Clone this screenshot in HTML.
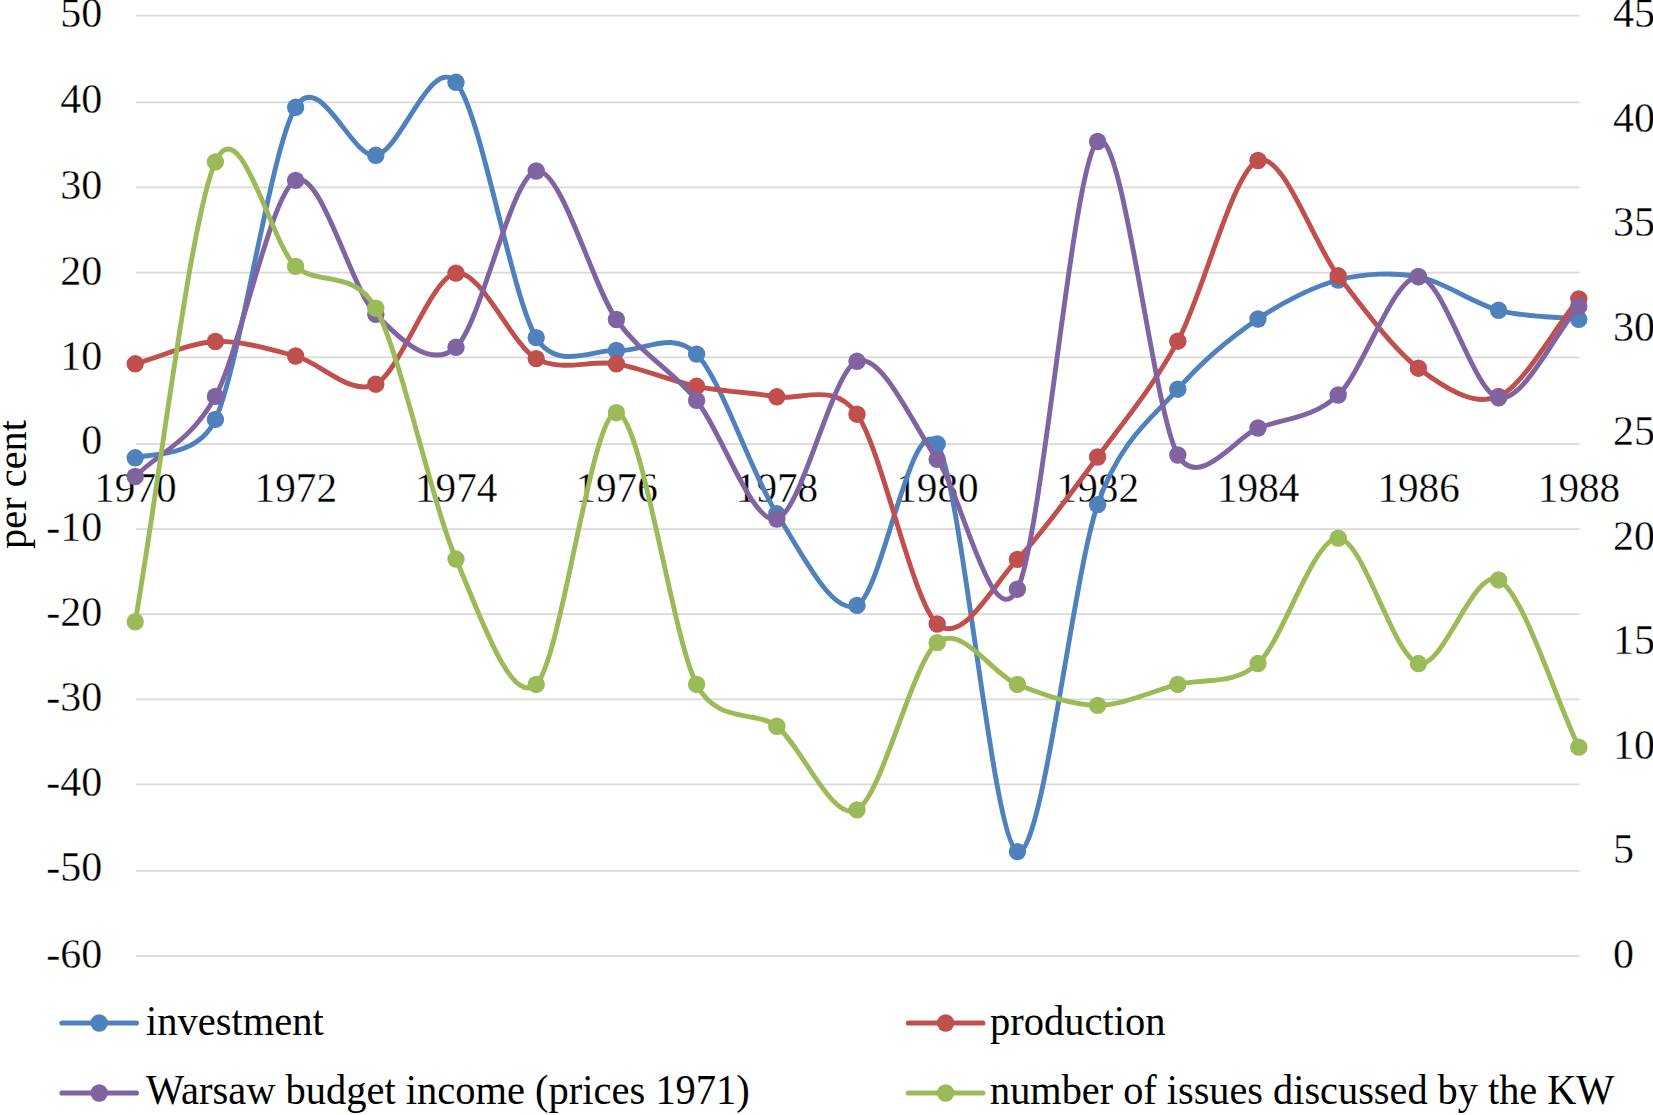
<!DOCTYPE html>
<html><head><meta charset="utf-8"><style>
html,body{margin:0;padding:0;background:#fff;width:1653px;height:1115px;overflow:hidden;font-family:"Liberation Serif",serif;}
svg{display:block}
</style></head><body>
<svg width="1653" height="1115" viewBox="0 0 1653 1115">
<g stroke="#D9D9D9" stroke-width="1.7"><line x1="136.0" x2="1579.6" y1="15.60" y2="15.60"/><line x1="136.0" x2="1579.6" y1="102.40" y2="102.40"/><line x1="136.0" x2="1579.6" y1="187.40" y2="187.40"/><line x1="136.0" x2="1579.6" y1="272.70" y2="272.70"/><line x1="136.0" x2="1579.6" y1="357.40" y2="357.40"/><line x1="136.0" x2="1579.6" y1="444.10" y2="444.10"/><line x1="136.0" x2="1579.6" y1="529.10" y2="529.10"/><line x1="136.0" x2="1579.6" y1="614.10" y2="614.10"/><line x1="136.0" x2="1579.6" y1="699.40" y2="699.40"/><line x1="136.0" x2="1579.6" y1="784.40" y2="784.40"/><line x1="136.0" x2="1579.6" y1="870.80" y2="870.80"/><line x1="136.0" x2="1579.6" y1="956.15" y2="956.15"/></g>
<g font-family="Liberation Serif" font-size="42" fill="#000" stroke="#fff" stroke-width="0.3" text-anchor="end">
<text x="102.3" y="27.45">50</text>
<text x="102.3" y="113.00">40</text>
<text x="102.3" y="199.35">30</text>
<text x="102.3" y="284.55">20</text>
<text x="102.3" y="369.65">10</text>
<text x="102.3" y="454.25">0</text>
<text x="102.3" y="541.25">-10</text>
<text x="102.3" y="626.25">-20</text>
<text x="102.3" y="711.35">-30</text>
<text x="102.3" y="796.05">-40</text>
<text x="102.3" y="880.85">-50</text>
<text x="102.3" y="968.15">-60</text>
</g>
<g font-family="Liberation Serif" font-size="42" fill="#000" stroke="#fff" stroke-width="0.3" text-anchor="start">
<text x="1613.0" y="27.25">45</text>
<text x="1613.0" y="131.76">40</text>
<text x="1613.0" y="236.26">35</text>
<text x="1613.0" y="340.77">30</text>
<text x="1613.0" y="445.27">25</text>
<text x="1613.0" y="549.78">20</text>
<text x="1613.0" y="654.28">15</text>
<text x="1613.0" y="758.79">10</text>
<text x="1613.0" y="863.29">5</text>
<text x="1613.0" y="967.80">0</text>
</g>
<g font-family="Liberation Serif" font-size="41.2" fill="#000" stroke="#fff" stroke-width="0.3" text-anchor="middle">
<text x="135.40" y="502.4">1970</text>
<text x="295.80" y="502.4">1972</text>
<text x="456.20" y="502.4">1974</text>
<text x="616.60" y="502.4">1976</text>
<text x="777.00" y="502.4">1978</text>
<text x="937.40" y="502.4">1980</text>
<text x="1097.80" y="502.4">1982</text>
<text x="1258.20" y="502.4">1984</text>
<text x="1418.60" y="502.4">1986</text>
<text x="1579.00" y="502.4">1988</text>
</g>
<text transform="translate(25.6,484.5) rotate(-90)" font-family="Liberation Serif" font-size="40.4" text-anchor="middle">per cent</text>
<path d="M135.20,457.80 C144.45,453.37 196.90,459.83 215.40,419.40 C240.26,365.07 270.74,148.24 295.60,107.30 C319.86,67.36 351.54,159.08 375.80,155.30 C400.66,151.43 431.14,54.04 456.00,82.30 C480.86,110.56 511.34,296.03 536.20,337.60 C557.05,372.46 595.55,348.36 616.40,350.50 C641.26,353.06 671.74,328.79 696.60,354.10 C721.46,379.41 751.94,474.85 776.80,513.80 C801.66,552.75 832.14,616.22 857.00,605.40 C881.86,594.58 912.34,405.84 937.20,444.00 C962.06,482.16 992.54,842.21 1017.40,851.60 C1042.26,860.99 1072.74,576.27 1097.60,504.60 C1120.63,438.21 1154.77,415.85 1177.80,389.20 C1202.66,360.43 1233.14,335.93 1258.00,319.00 C1282.86,302.07 1313.34,286.56 1338.20,280.00 C1363.06,273.44 1393.54,272.00 1418.40,276.70 C1443.26,281.40 1473.74,303.70 1498.60,310.30 C1523.46,316.90 1553.94,316.51 1578.80,319.30" fill="none" stroke="#4F81BD" stroke-width="4.9" stroke-linecap="round" stroke-linejoin="round"/>
<g fill="#4F81BD"><circle cx="135.20" cy="457.80" r="8.7"/><circle cx="215.40" cy="419.40" r="8.7"/><circle cx="295.60" cy="107.30" r="8.7"/><circle cx="375.80" cy="155.30" r="8.7"/><circle cx="456.00" cy="82.30" r="8.7"/><circle cx="536.20" cy="337.60" r="8.7"/><circle cx="616.40" cy="350.50" r="8.7"/><circle cx="696.60" cy="354.10" r="8.7"/><circle cx="776.80" cy="513.80" r="8.7"/><circle cx="857.00" cy="605.40" r="8.7"/><circle cx="937.20" cy="444.00" r="8.7"/><circle cx="1017.40" cy="851.60" r="8.7"/><circle cx="1097.60" cy="504.60" r="8.7"/><circle cx="1177.80" cy="389.20" r="8.7"/><circle cx="1258.00" cy="319.00" r="8.7"/><circle cx="1338.20" cy="280.00" r="8.7"/><circle cx="1418.40" cy="276.70" r="8.7"/><circle cx="1498.60" cy="310.30" r="8.7"/><circle cx="1578.80" cy="319.30" r="8.7"/></g>

<path d="M135.20,363.80 C160.06,356.89 190.54,342.71 215.40,341.50 C240.26,340.29 270.74,349.38 295.60,356.00 C320.46,362.62 350.94,397.05 375.80,384.20 C400.66,371.35 431.14,277.07 456.00,273.10 C480.86,269.13 511.34,344.54 536.20,358.60 C561.06,372.66 591.54,359.51 616.40,363.80 C641.26,368.09 671.74,381.19 696.60,386.30 C721.46,391.42 751.94,392.48 776.80,396.80 C800.47,400.92 833.33,380.68 857.00,414.20 C881.86,449.42 912.34,601.49 937.20,624.00 C962.06,646.51 992.54,585.28 1017.40,559.40 C1042.26,533.51 1072.74,490.82 1097.60,457.00 C1122.46,423.18 1152.94,387.16 1177.80,341.20 C1202.66,295.24 1233.14,170.64 1258.00,160.50 C1282.86,150.36 1313.34,243.61 1338.20,275.80 C1363.06,307.99 1393.54,349.49 1418.40,368.20 C1443.26,386.91 1473.74,407.24 1498.60,396.50 C1523.46,385.76 1553.94,329.16 1578.80,298.90" fill="none" stroke="#C0504D" stroke-width="4.9" stroke-linecap="round" stroke-linejoin="round"/>
<g fill="#C0504D"><circle cx="135.20" cy="363.80" r="8.7"/><circle cx="215.40" cy="341.50" r="8.7"/><circle cx="295.60" cy="356.00" r="8.7"/><circle cx="375.80" cy="384.20" r="8.7"/><circle cx="456.00" cy="273.10" r="8.7"/><circle cx="536.20" cy="358.60" r="8.7"/><circle cx="616.40" cy="363.80" r="8.7"/><circle cx="696.60" cy="386.30" r="8.7"/><circle cx="776.80" cy="396.80" r="8.7"/><circle cx="857.00" cy="414.20" r="8.7"/><circle cx="937.20" cy="624.00" r="8.7"/><circle cx="1017.40" cy="559.40" r="8.7"/><circle cx="1097.60" cy="457.00" r="8.7"/><circle cx="1177.80" cy="341.20" r="8.7"/><circle cx="1258.00" cy="160.50" r="8.7"/><circle cx="1338.20" cy="275.80" r="8.7"/><circle cx="1418.40" cy="368.20" r="8.7"/><circle cx="1498.60" cy="396.50" r="8.7"/><circle cx="1578.80" cy="298.90" r="8.7"/></g>

<path d="M135.20,476.50 C160.06,451.67 190.54,442.30 215.40,396.40 C240.26,350.50 270.74,193.13 295.60,180.40 C320.46,167.67 350.94,288.43 375.80,314.30 C400.66,340.17 431.14,369.51 456.00,347.30 C480.86,325.09 511.34,175.31 536.20,171.00 C561.06,166.69 591.54,283.94 616.40,319.50 C641.26,355.06 671.74,369.48 696.60,400.40 C721.46,431.32 751.94,525.06 776.80,519.00 C801.66,512.94 832.14,370.55 857.00,361.30 C881.86,352.05 912.34,423.98 937.20,459.30 C962.06,494.62 992.54,638.46 1017.40,589.20 C1042.26,539.94 1072.74,162.30 1097.60,141.50 C1122.46,120.70 1152.94,410.59 1177.80,455.00 C1198.47,491.92 1237.33,435.73 1258.00,428.00 C1282.86,418.70 1313.34,418.45 1338.20,395.00 C1363.06,371.55 1393.54,276.27 1418.40,276.70 C1443.26,277.13 1473.74,393.21 1498.60,397.80 C1523.46,402.39 1553.94,334.67 1578.80,306.30" fill="none" stroke="#8064A2" stroke-width="4.9" stroke-linecap="round" stroke-linejoin="round"/>
<g fill="#8064A2"><circle cx="135.20" cy="476.50" r="8.7"/><circle cx="215.40" cy="396.40" r="8.7"/><circle cx="295.60" cy="180.40" r="8.7"/><circle cx="375.80" cy="314.30" r="8.7"/><circle cx="456.00" cy="347.30" r="8.7"/><circle cx="536.20" cy="171.00" r="8.7"/><circle cx="616.40" cy="319.50" r="8.7"/><circle cx="696.60" cy="400.40" r="8.7"/><circle cx="776.80" cy="519.00" r="8.7"/><circle cx="857.00" cy="361.30" r="8.7"/><circle cx="937.20" cy="459.30" r="8.7"/><circle cx="1017.40" cy="589.20" r="8.7"/><circle cx="1097.60" cy="141.50" r="8.7"/><circle cx="1177.80" cy="455.00" r="8.7"/><circle cx="1258.00" cy="428.00" r="8.7"/><circle cx="1338.20" cy="395.00" r="8.7"/><circle cx="1418.40" cy="276.70" r="8.7"/><circle cx="1498.60" cy="397.80" r="8.7"/><circle cx="1578.80" cy="306.30" r="8.7"/></g>

<path d="M135.20,621.73 C160.06,479.19 190.54,216.98 215.40,161.91 C240.26,106.83 270.74,243.74 295.60,266.41 C317.34,286.24 354.06,268.56 375.80,308.22 C400.66,353.57 431.14,500.71 456.00,559.03 C480.86,617.34 511.34,707.11 536.20,684.44 C561.06,661.76 591.54,412.72 616.40,412.72 C641.26,412.72 671.74,635.84 696.60,684.44 C717.20,724.69 756.20,710.13 776.80,726.24 C801.66,745.68 832.14,822.80 857.00,809.84 C881.86,796.88 912.34,662.07 937.20,642.63 C962.06,623.20 992.54,674.72 1017.40,684.44 C1042.26,694.15 1072.74,705.34 1097.60,705.34 C1122.46,705.34 1152.94,690.91 1177.80,684.44 C1202.66,677.96 1233.14,686.21 1258.00,663.53 C1282.86,640.86 1313.34,538.13 1338.20,538.13 C1363.06,538.13 1393.54,657.06 1418.40,663.53 C1443.26,670.01 1473.74,566.97 1498.60,579.93 C1523.46,592.89 1553.94,695.30 1578.80,747.14" fill="none" stroke="#9BBB59" stroke-width="4.9" stroke-linecap="round" stroke-linejoin="round"/>
<g fill="#9BBB59"><circle cx="135.20" cy="621.73" r="8.7"/><circle cx="215.40" cy="161.91" r="8.7"/><circle cx="295.60" cy="266.41" r="8.7"/><circle cx="375.80" cy="308.22" r="8.7"/><circle cx="456.00" cy="559.03" r="8.7"/><circle cx="536.20" cy="684.44" r="8.7"/><circle cx="616.40" cy="412.72" r="8.7"/><circle cx="696.60" cy="684.44" r="8.7"/><circle cx="776.80" cy="726.24" r="8.7"/><circle cx="857.00" cy="809.84" r="8.7"/><circle cx="937.20" cy="642.63" r="8.7"/><circle cx="1017.40" cy="684.44" r="8.7"/><circle cx="1097.60" cy="705.34" r="8.7"/><circle cx="1177.80" cy="684.44" r="8.7"/><circle cx="1258.00" cy="663.53" r="8.7"/><circle cx="1338.20" cy="538.13" r="8.7"/><circle cx="1418.40" cy="663.53" r="8.7"/><circle cx="1498.60" cy="579.93" r="8.7"/><circle cx="1578.80" cy="747.14" r="8.7"/></g>

<line x1="62.0" x2="136.4" y1="1023.0" y2="1023.0" stroke="#4F81BD" stroke-width="5.2" stroke-linecap="round"/><circle cx="99.2" cy="1023.0" r="8.7" fill="#4F81BD"/><text transform="translate(146.0,1034.7) scale(1,1.06)" font-family="Liberation Serif" font-size="40.5">investment</text>
<line x1="908.4" x2="982.8" y1="1023.0" y2="1023.0" stroke="#C0504D" stroke-width="5.2" stroke-linecap="round"/><circle cx="945.6" cy="1023.0" r="8.7" fill="#C0504D"/><text transform="translate(990.0,1034.7) scale(1,1.06)" font-family="Liberation Serif" font-size="40.5">production</text>
<line x1="62.0" x2="136.4" y1="1093.0" y2="1093.0" stroke="#8064A2" stroke-width="5.2" stroke-linecap="round"/><circle cx="99.2" cy="1093.0" r="8.7" fill="#8064A2"/><text transform="translate(146.0,1104.4) scale(1,1.06)" font-family="Liberation Serif" font-size="40.5">Warsaw budget income (prices 1971)</text>
<line x1="908.4" x2="982.8" y1="1093.0" y2="1093.0" stroke="#9BBB59" stroke-width="5.2" stroke-linecap="round"/><circle cx="945.6" cy="1093.0" r="8.7" fill="#9BBB59"/><text transform="translate(990.0,1104.4) scale(1,1.06)" font-family="Liberation Serif" font-size="40.3">number of issues discussed by the KW</text>
</svg>
</body></html>
